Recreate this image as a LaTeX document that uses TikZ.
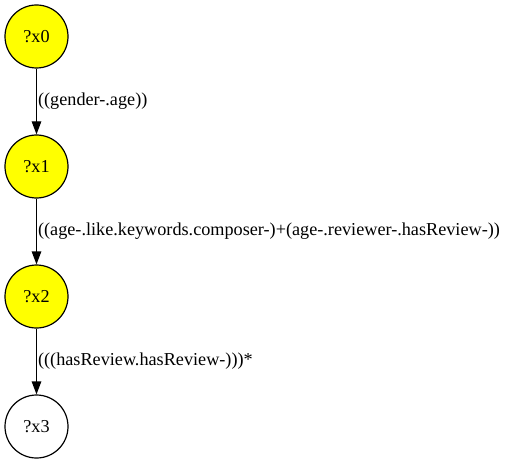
\documentclass[tikz,border=0pt]{standalone}
\usepackage{fontspec}
\setmainfont{Liberation Serif}
\usetikzlibrary{arrows.meta, positioning}
\definecolor{varfill}{RGB}{255,255,0}

\begin{document}
\begin{tikzpicture}[x=1bp, y=-1bp,
    var/.style={circle, draw, line width=1.2bp, minimum size=63bp, inner sep=0pt,
                font=\fontsize{18.2bp}{22bp}\selectfont},
    link/.style={line width=1.2bp, -{Triangle[length=13bp, width=9.5bp]}},
    lbl/.style={right, inner sep=1bp, font=\fontsize{18.2bp}{22bp}\selectfont}]
\useasboundingbox (0,0) rectangle (505,464);
% variables
\node[var, fill=varfill] (x0) at (36.5,36.5) {?x0};
\node[var, fill=varfill, below=65.8bp of x0] (x1) {?x1};
\node[var, fill=varfill, below=65.8bp of x1] (x2) {?x2};
\node[var, below=65.8bp of x2] (x3) {?x3};
% paths
\draw[link] (x0) -- (x1) node[lbl, midway] {((gender-.age))};
\draw[link] (x1) -- (x2) node[lbl, midway] {((age-.like.keywords.composer-)+(age-.reviewer-.hasReview-))};
\draw[link] (x2) -- (x3) node[lbl, midway] {(((hasReview.hasReview-)))*};
\end{tikzpicture}
\end{document}
